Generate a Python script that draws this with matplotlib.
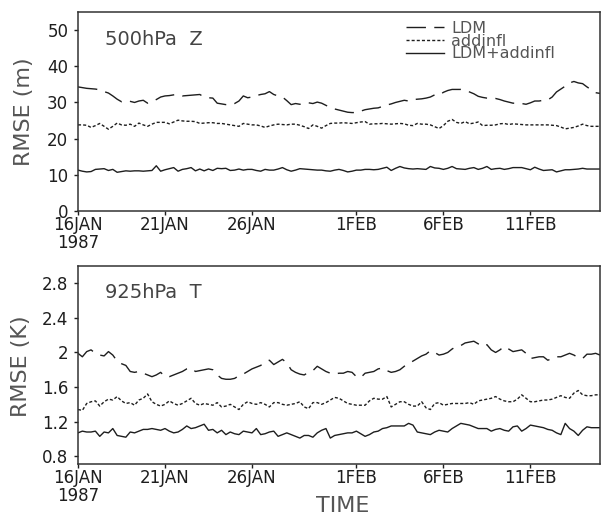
import matplotlib
matplotlib.use('Agg')
import matplotlib.pyplot as plt
import numpy as np

# 6-hourly RMSE, 16JAN1987 00Z .. 15FEB1987 00Z
z500_ldm = [34.3, 34.1, 33.9, 33.8, 33.7, 33.5, 33.0, 32.6, 31.8, 30.9,
            30.2, 30.5, 30.3, 30.0, 30.4, 30.6, 29.8, 30.2, 30.8, 31.5,
            31.8, 31.9, 32.1, 32.2, 31.8, 31.9, 32.0, 32.1, 32.2, 31.5,
            31.3, 31.2, 29.8, 29.6, 29.4, 29.3, 29.7, 30.4, 31.8, 31.3,
            31.5, 31.9, 32.2, 32.4, 33.0, 32.2, 31.8, 31.5, 30.5, 29.4,
            29.7, 29.5, 29.5, 29.9, 29.7, 30.1, 29.8, 29.2, 28.6, 28.2,
            27.9, 27.6, 27.3, 27.2, 27.2, 27.6, 28.0, 28.2, 28.4, 28.5,
            28.9, 29.3, 29.6, 30.0, 30.3, 30.6, 30.4, 30.8, 30.9, 31.0,
            31.2, 31.5, 32.1, 32.0, 32.8, 33.3, 33.6, 33.6, 33.6, 33.3,
            32.9, 32.4, 31.7, 31.4, 31.2, 31.1, 31.1, 30.8, 30.4, 30.1,
            29.8, 29.8, 29.7, 29.5, 29.9, 30.4, 30.4, 30.6, 30.7, 31.5,
            32.9, 33.7, 34.5, 35.4, 35.8, 35.4, 35.2, 34.3, 33.5, 32.7,
            32.5]
z500_add = [23.8, 23.8, 23.7, 23.1, 23.6, 24.2, 23.4, 22.6, 23.4, 24.3,
            23.8, 23.7, 24.0, 23.4, 24.3, 23.8, 23.4, 24.0, 24.5, 24.5,
            24.5, 24.1, 24.6, 25.1, 24.9, 24.8, 24.8, 24.7, 24.2, 24.3,
            24.4, 24.4, 24.2, 24.2, 24.0, 23.8, 23.6, 23.4, 24.2, 24.0,
            23.8, 23.8, 23.5, 23.1, 23.5, 23.8, 24.0, 23.9, 23.8, 24.0,
            24.0, 23.7, 23.3, 22.8, 23.8, 23.4, 22.9, 23.6, 24.2, 24.3,
            24.3, 24.4, 24.3, 24.2, 24.4, 24.6, 24.7, 24.0, 24.1, 24.1,
            24.2, 24.1, 24.0, 24.1, 24.2, 24.1, 23.7, 23.6, 24.2, 24.0,
            24.0, 23.8, 23.3, 22.8, 23.6, 24.8, 25.3, 24.5, 24.2, 24.7,
            24.1, 24.3, 24.6, 23.6, 23.7, 23.7, 23.8, 24.1, 24.2, 23.9,
            24.1, 24.0, 23.9, 23.8, 23.8, 23.8, 23.8, 23.8, 23.8, 23.7,
            23.6, 23.2, 22.7, 22.9, 23.1, 23.5, 24.0, 23.6, 23.4, 23.4,
            23.4]
z500_both = [11.3, 11.0, 10.8, 10.9, 11.5, 11.6, 11.7, 11.2, 11.5, 10.7,
             10.9, 11.1, 11.0, 11.1, 11.1, 11.0, 11.1, 11.2, 12.5, 11.0,
             11.4, 11.7, 12.0, 11.0, 11.5, 11.7, 12.0, 11.1, 11.6, 11.1,
             11.6, 11.2, 11.8, 11.7, 11.8, 11.2, 11.3, 11.6, 11.3, 11.5,
             11.5, 11.2, 11.0, 11.5, 11.3, 11.3, 11.6, 12.0, 11.4, 11.0,
             11.3, 11.7, 11.6, 11.5, 11.4, 11.3, 11.3, 11.1, 11.0, 11.3,
             11.5, 11.2, 10.8, 11.0, 11.3, 11.3, 11.5, 11.5, 11.4, 11.5,
             11.8, 12.1, 11.2, 11.8, 12.3, 11.9, 11.7, 11.6, 11.7, 11.6,
             11.5, 12.3, 11.9, 11.8, 11.5, 11.8, 12.3, 11.7, 11.6, 11.5,
             11.8, 12.0, 11.5, 11.8, 12.3, 11.5, 11.7, 11.8, 11.5, 11.7,
             12.0, 12.0, 12.0, 11.7, 11.4, 12.1, 11.6, 11.2, 11.3, 11.4,
             10.8, 11.1, 11.4, 11.4, 11.5, 11.6, 11.8, 11.6, 11.6, 11.6,
             11.6]

t925_ldm = [1.99, 1.95, 2.01, 2.03, 1.99, 1.97, 1.96, 2.01, 1.97, 1.90,
            1.87, 1.85, 1.78, 1.77, 1.78, 1.76, 1.74, 1.72, 1.74, 1.77,
            1.72, 1.72, 1.74, 1.76, 1.78, 1.81, 1.82, 1.78, 1.79, 1.80,
            1.81, 1.80, 1.74, 1.70, 1.69, 1.69, 1.70, 1.73, 1.75, 1.78,
            1.81, 1.83, 1.85, 1.89, 1.91, 1.86, 1.89, 1.92, 1.88, 1.80,
            1.77, 1.75, 1.74, 1.77, 1.79, 1.84, 1.81, 1.78, 1.76, 1.75,
            1.76, 1.76, 1.78, 1.77, 1.72, 1.71, 1.76, 1.77, 1.78, 1.81,
            1.82, 1.79, 1.77, 1.78, 1.80, 1.84, 1.87, 1.90, 1.93, 1.96,
            1.98, 2.02, 2.00, 1.97, 1.98, 2.00, 2.04, 2.07, 2.08, 2.11,
            2.12, 2.13, 2.10, 2.07, 2.09, 2.03, 2.00, 2.03, 2.07, 2.04,
            2.01, 2.02, 2.03, 1.99, 1.93, 1.94, 1.95, 1.95, 1.91, 1.93,
            1.95, 1.95, 1.97, 1.99, 1.97, 1.94, 1.93, 1.98, 1.98, 1.99,
            1.97]
t925_add = [1.34, 1.33, 1.41, 1.43, 1.44, 1.38, 1.43, 1.46, 1.45, 1.49,
            1.44, 1.41, 1.42, 1.39, 1.45, 1.47, 1.52, 1.43, 1.40, 1.38,
            1.40, 1.44, 1.41, 1.39, 1.41, 1.44, 1.47, 1.41, 1.39, 1.41,
            1.40, 1.39, 1.42, 1.37, 1.38, 1.40, 1.37, 1.34, 1.40, 1.43,
            1.41, 1.40, 1.42, 1.40, 1.37, 1.42, 1.42, 1.40, 1.39, 1.40,
            1.41, 1.43, 1.37, 1.35, 1.42, 1.42, 1.40, 1.42, 1.45, 1.48,
            1.47, 1.44, 1.41, 1.40, 1.39, 1.39, 1.39, 1.44, 1.47, 1.46,
            1.46, 1.49, 1.37, 1.40, 1.43, 1.43, 1.40, 1.38, 1.38, 1.43,
            1.36, 1.34, 1.41, 1.42, 1.39, 1.40, 1.41, 1.41, 1.41, 1.41,
            1.42, 1.40, 1.44, 1.45, 1.46, 1.47, 1.49, 1.46, 1.44, 1.43,
            1.43, 1.46, 1.51, 1.47, 1.43, 1.43, 1.44, 1.45, 1.45, 1.46,
            1.48, 1.50, 1.48, 1.47, 1.53, 1.56, 1.51, 1.50, 1.50, 1.51,
            1.51]
t925_both = [1.07, 1.09, 1.08, 1.08, 1.09, 1.03, 1.08, 1.07, 1.12, 1.04,
             1.03, 1.02, 1.08, 1.07, 1.09, 1.11, 1.11, 1.12, 1.11, 1.10,
             1.12, 1.09, 1.07, 1.08, 1.11, 1.15, 1.12, 1.13, 1.15, 1.17,
             1.10, 1.11, 1.07, 1.10, 1.05, 1.08, 1.06, 1.05, 1.09, 1.08,
             1.07, 1.12, 1.05, 1.06, 1.08, 1.09, 1.03, 1.05, 1.07, 1.05,
             1.03, 1.01, 1.04, 1.04, 1.02, 1.07, 1.10, 1.12, 1.01, 1.04,
             1.05, 1.06, 1.07, 1.07, 1.09, 1.06, 1.03, 1.05, 1.08, 1.09,
             1.12, 1.13, 1.15, 1.15, 1.15, 1.15, 1.18, 1.16, 1.08, 1.07,
             1.06, 1.05, 1.08, 1.10, 1.09, 1.08, 1.12, 1.15, 1.18, 1.17,
             1.16, 1.14, 1.12, 1.12, 1.12, 1.09, 1.11, 1.12, 1.10, 1.09,
             1.14, 1.15, 1.09, 1.12, 1.16, 1.15, 1.14, 1.13, 1.11, 1.10,
             1.07, 1.05, 1.18, 1.12, 1.09, 1.04, 1.10, 1.14, 1.13, 1.13,
             1.13]

tick_days = [0, 5, 10, 16, 21, 26]
tick_labels = ['16JAN\n1987', '21JAN', '26JAN', '1FEB', '6FEB', '11FEB']
names = ['LDM', 'addinfl', 'LDM+addinfl']

days = np.arange(len(z500_ldm)) * 0.25

lc = '#1e1e1e'
plt.rcParams['font.family'] = 'DejaVu Sans'

fig = plt.figure(figsize=(6.01, 5.16), dpi=100)
ax1 = fig.add_axes([78 / 601, 1 - 211 / 516, 522 / 601, 199 / 516])
ax2 = fig.add_axes([78 / 601, 1 - 464 / 516, 522 / 601, 198 / 516])


def style(ax):
    ax.set_xlim(0, 30)
    ax.set_xticks(tick_days)
    ax.set_xticklabels(tick_labels)
    ax.get_xticklabels()[0].set_linespacing(1.0)
    ax.tick_params(axis='x', direction='out', length=3, width=1, pad=0.5,
                   labelsize=12, colors=lc)
    ax.tick_params(axis='y', direction='out', length=3, width=1, pad=4,
                   labelsize=12, colors=lc)
    ax.tick_params(top=False, right=False)
    for s in ax.spines.values():
        s.set_color('#333333')
        s.set_linewidth(1.1)


# top panel: 500hPa Z
ax1.plot(days, z500_ldm, color=lc, lw=1.0, dashes=(14, 6), label=names[0])
ax1.plot(days, z500_add, color=lc, lw=1.0, dashes=(2.2, 1.5), label=names[1])
ax1.plot(days, z500_both, color=lc, lw=1.0, label=names[2])
ax1.set_ylim(0, 55)
ax1.set_yticks([0, 10, 20, 30, 40, 50])
style(ax1)
ax1.set_ylabel('RMSE (m)', fontsize=16, color='#555555')
ax1.yaxis.set_label_coords(-0.103, 0.5)
ax1.yaxis.label.set_va('center')
ax1.text(0.052, 0.86, '500hPa  Z', transform=ax1.transAxes, fontsize=14,
         color='#444444', va='center', ha='left')
ax1.legend(loc='upper left', bbox_to_anchor=(0.628, 0.955), frameon=False,
           fontsize=11.5, handlelength=2.4, handletextpad=0.45,
           labelspacing=-0.15, borderpad=0, borderaxespad=0,
           labelcolor='#555555')

# bottom panel: 925hPa T
ax2.plot(days, t925_ldm, color=lc, lw=1.0, dashes=(14, 6))
ax2.plot(days, t925_add, color=lc, lw=1.0, dashes=(2.2, 1.5))
ax2.plot(days, t925_both, color=lc, lw=1.0)
ax2.set_ylim(0.71, 3.0)
ax2.set_yticks([0.8, 1.2, 1.6, 2.0, 2.4, 2.8])
ax2.set_yticklabels(['0.8', '1.2', '1.6', '2', '2.4', '2.8'])
style(ax2)
ax2.set_ylabel('RMSE (K)', fontsize=16, color='#555555')
ax2.yaxis.set_label_coords(-0.109, 0.495)
ax2.yaxis.label.set_va('center')
ax2.set_xlabel('TIME', fontsize=16, color='#555555')
ax2.xaxis.set_label_coords(0.508, -0.21)
ax2.xaxis.label.set_va('center')
ax2.text(0.052, 0.864, '925hPa  T', transform=ax2.transAxes, fontsize=14,
         color='#444444', va='center', ha='left')

fig.savefig('out.png', dpi=100)
